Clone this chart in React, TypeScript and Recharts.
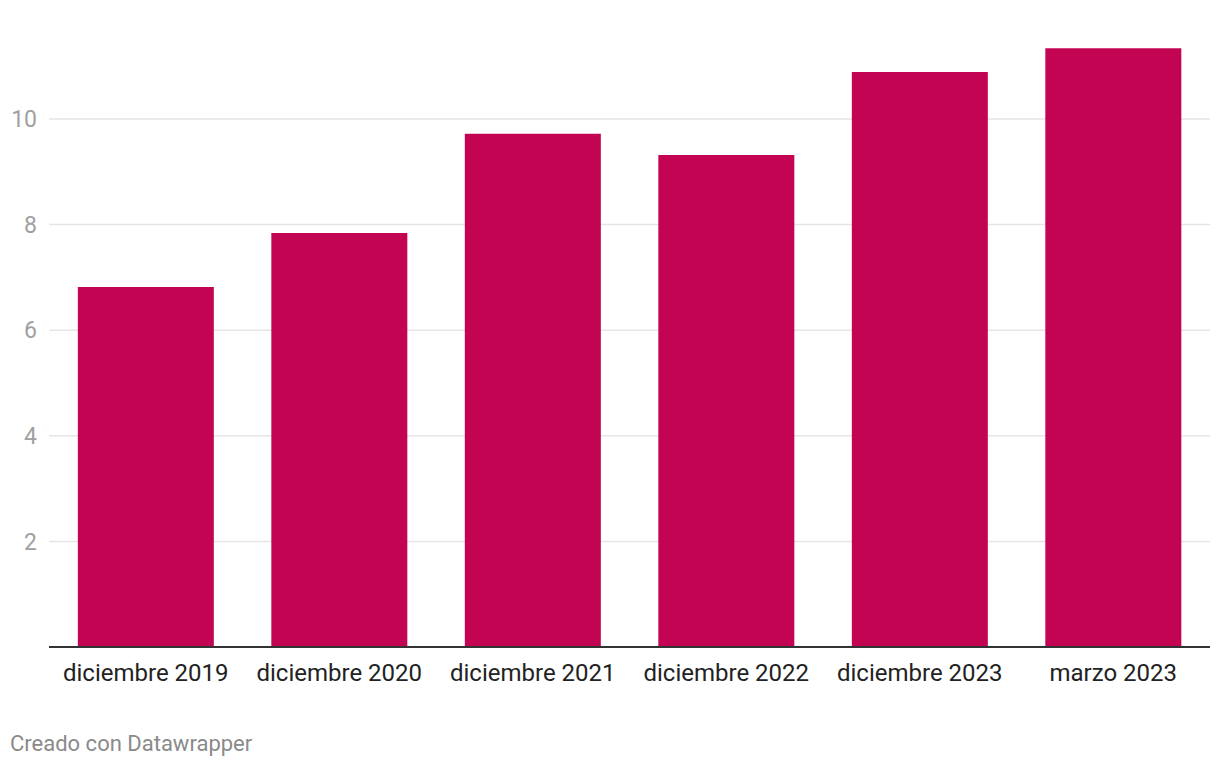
import React from 'react';
import { BarChart, Bar, XAxis, YAxis, CartesianGrid } from 'recharts';

const categories = ['diciembre 2019', 'diciembre 2020', 'diciembre 2021', 'diciembre 2022', 'diciembre 2023', 'marzo 2023'];
const values = [6.82, 7.84, 9.72, 9.32, 10.89, 11.34];
const yTicks = [2, 4, 6, 8, 10];

const data = categories.map((c, i) => ({ name: c, value: values[i] }));

const FONT = 'Roboto, "Noto Sans", sans-serif';

export default function App() {
  return (
    <div style={{ position: 'absolute', left: 0, top: 0, width: 1220, height: 768, background: '#fff', fontFamily: FONT }}>
      <BarChart
        width={1220}
        height={768}
        data={data}
        margin={{ top: 13.4, right: 10, bottom: 81, left: 1 }}
        barCategoryGap="14.9%"
      >
        <CartesianGrid vertical={false} stroke="#e5e5e5" strokeWidth={1.5} syncWithTicks={true} />
        <YAxis
          domain={[0, 12]}
          ticks={yTicks}
          width={48}
          axisLine={false}
          tickLine={false}
          tickSize={0}
          tickMargin={12}
          tick={{ fill: '#a0a0a0', fontSize: 23, fontFamily: FONT }}
        />
        <XAxis
          dataKey="name"
          height={40}
          axisLine={{ stroke: '#333', strokeWidth: 2 }}
          tickLine={false}
          tickSize={0}
          tickMargin={17}
          tick={{ fill: '#222', fontSize: 24, fontFamily: FONT }}
          interval={0}
        />
        <Bar dataKey="value" fill="#c20452" isAnimationActive={false} />
      </BarChart>
      <div style={{ position: 'absolute', left: 10, top: 731, fontSize: 22, color: '#8a8a8a', fontFamily: FONT, whiteSpace: 'nowrap' }}>
        Creado con Datawrapper
      </div>
    </div>
  );
}
